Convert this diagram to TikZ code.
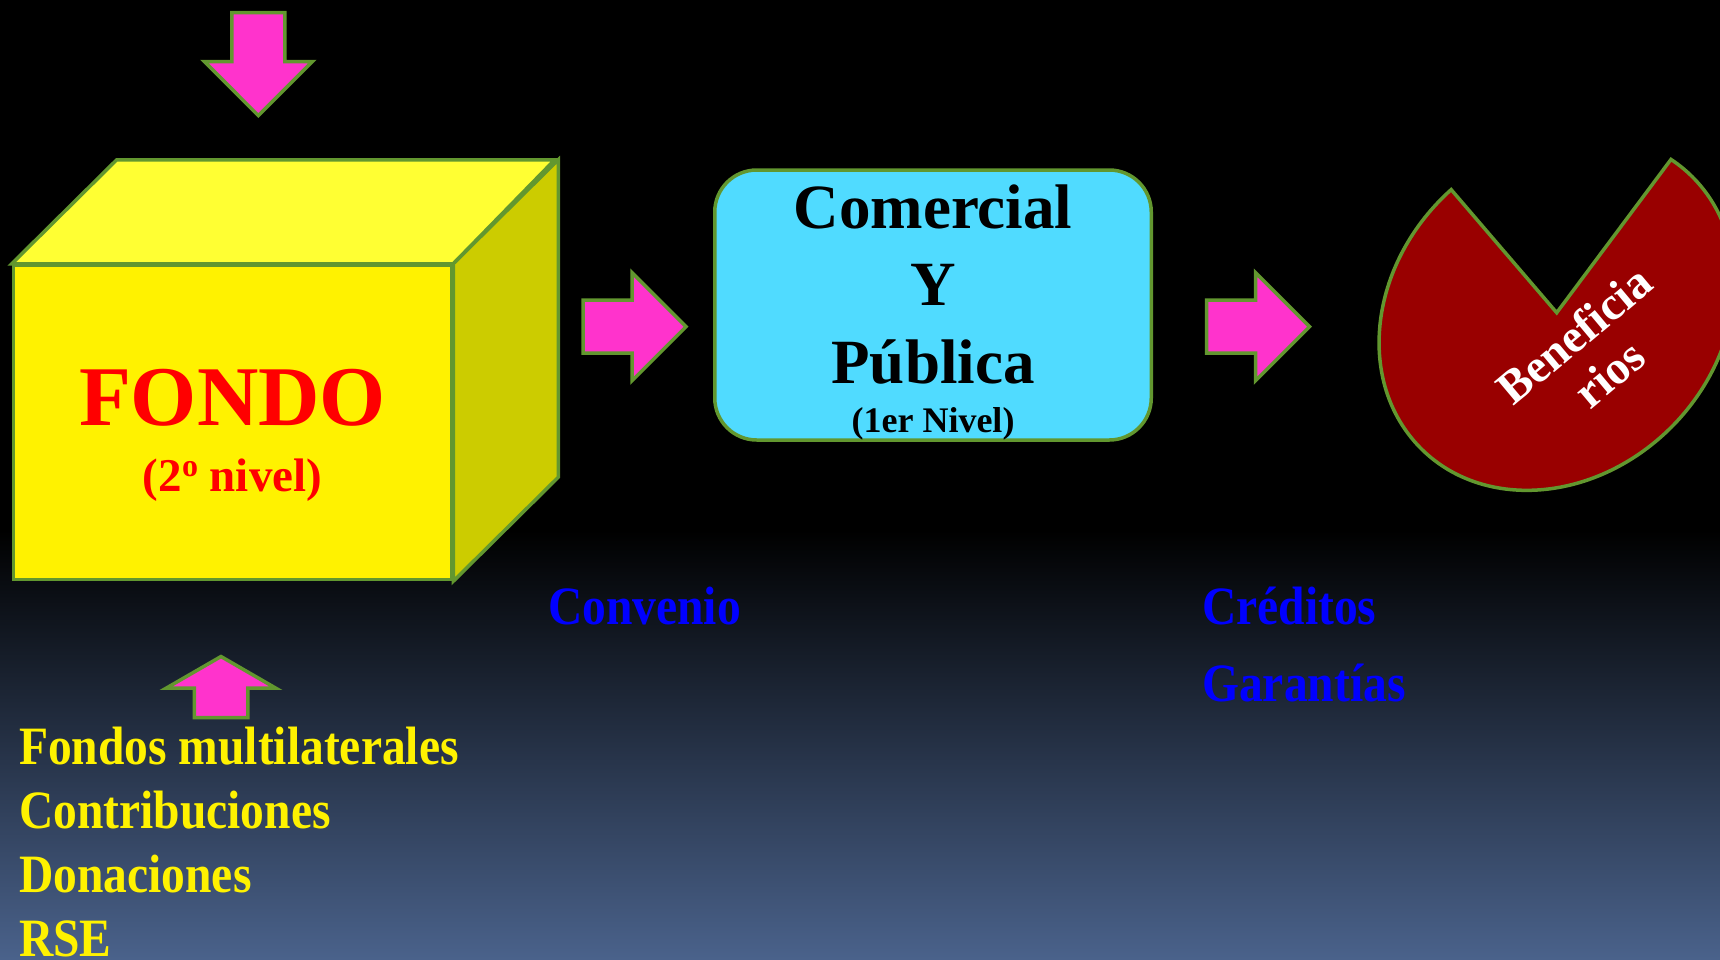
\documentclass[tikz,border=0pt]{standalone}
\usepackage{fontspec}
\setmainfont{Liberation Serif}
\newfontfamily\narrowserif[FakeStretch=0.88]{Liberation Serif}
\usepackage{tikz}
\usetikzlibrary{positioning,calc,shapes.arrows}

\definecolor{rimgreen}{RGB}{98,151,47}
\definecolor{arrowpink}{RGB}{255,51,204}
\definecolor{boxcyan}{RGB}{80,219,255}
\definecolor{cubetop}{RGB}{255,255,51}
\definecolor{cubeside}{RGB}{204,204,0}
\definecolor{piered}{RGB}{153,0,0}
\definecolor{bgblue}{RGB}{74,98,139}

\begin{document}
\begin{tikzpicture}[x=1pt,y=-1pt,
greenrim/.style = {draw=rimgreen, line width=3.5pt},
pinkarrow/.style = {greenrim, fill=arrowpink,
	single arrow, single arrow head extend=27.5pt,
	inner xsep=0pt, inner ysep=24.75pt,
	minimum height=103pt, anchor=tip},
bigtext/.style = {font=\fontsize{63}{63}\selectfont\bfseries,
	text height=44pt, text depth=14pt, inner sep=0pt},
listtext/.style = {font=\narrowserif\fontsize{54}{54}\selectfont\bfseries,
	text height=38pt, text depth=12pt, inner sep=0pt, anchor=base west}
]
\useasboundingbox (0,0) rectangle (1720,959);
\fill[black] (0,0) rectangle (1720,531);
\shade[top color=black, bottom color=bgblue] (0,530) rectangle (1720,959);

% fondo (cubo)
\node[greenrim, fill=yellow, minimum width=438pt, minimum height=314pt,
	inner sep=0pt] (fondo) at (232.5,422.5) {};
\draw[greenrim, fill=cubetop] (fondo.north west) -- ++(105,-104)
	-- ++(438,0) -- (fondo.north east) -- cycle;
\draw[greenrim, fill=cubeside] (fondo.north east) -- ++(105,-104)
	-- ($(fondo.south east)+(105,-104)$) -- (fondo.south east) -- cycle;
\node[font=\fontsize{85}{85}\selectfont\bfseries, text=red, inner sep=0pt,
	anchor=base] (fondoname) at (232.5,425.6) {FONDO};
\node[font=\fontsize{47}{47}\selectfont\bfseries, text=red, inner sep=0pt,
	anchor=base] (nivel2) at (232.5,491.8)
	{(2\raisebox{15pt}{\fontsize{32}{32}\selectfont o} nivel)};

\node[pinkarrow, rotate=-90] (arrtop) at (258.3,118) {};
\node[pinkarrow] (arrconv) at (688.5,326.7) {};
\node[pinkarrow] (arrcred) at (1312,326.7) {};
\node[pinkarrow, rotate=90, single arrow tip angle=120,
	single arrow head extend=28pt, inner ysep=25pt,
	minimum height=61pt] (arrup) at (221,654.5) {};

% comercial y publica
\node[greenrim, fill=boxcyan, rounded corners=42pt, minimum width=436.5pt,
	minimum height=270pt, inner sep=0pt] (banca) at (933,305) {};
\node[bigtext, anchor=base] (comercial) at (933,228.3) {Comercial};
\node[bigtext, below=19pt of comercial] (ylbl) {Y};
\node[bigtext, below=19pt of ylbl] (publica) {Pública};
\node[font=\fontsize{36}{36}\selectfont\bfseries, text height=26pt,
	text depth=9pt, inner sep=0pt, below=9.4pt of publica] (nivel1) {(1er Nivel)};

% beneficiarios
\coordinate (piecenter) at (1556.7,312.7);
\begin{scope}
\clip (0,0) rectangle (1720,959);
\begin{scope}[shift={(piecenter)}, rotate=45, y=1pt]
\draw[greenrim, fill=piered] (0,0) -- (86.3:192 and 162)
	arc[start angle=86.3, end angle=369.8, x radius=192, y radius=162]
	-- cycle;
\end{scope}
\end{scope}
\node[font=\fontsize{47}{47}\selectfont\bfseries, text=white, inner sep=0pt,
	rotate=40, anchor=base] (benef) at (1584,347.4) {Beneficia};
\node[font=\fontsize{47}{47}\selectfont\bfseries, text=white, inner sep=0pt,
	rotate=40, anchor=base] (rios) at (1619,386) {rios};

\node[listtext, text=blue] (convenio) at (548,624.4) {Convenio};
\node[listtext, text=blue] (creditos) at (1202,624) {Créditos};
\node[listtext, text=blue, below=26.7pt of creditos.south west,
	anchor=north west] (garantias) {Garantías};

\node[listtext, text=yellow] (fondos) at (19,764) {Fondos multilaterales};
\node[listtext, text=yellow, below=13.7pt of fondos.south west,
	anchor=north west] (contrib) {Contribuciones};
\node[listtext, text=yellow, below=13.7pt of contrib.south west,
	anchor=north west] (donac) {Donaciones};
\node[listtext, text=yellow, below=13.7pt of donac.south west,
	anchor=north west] (rse) {RSE};
\end{tikzpicture}
\end{document}
